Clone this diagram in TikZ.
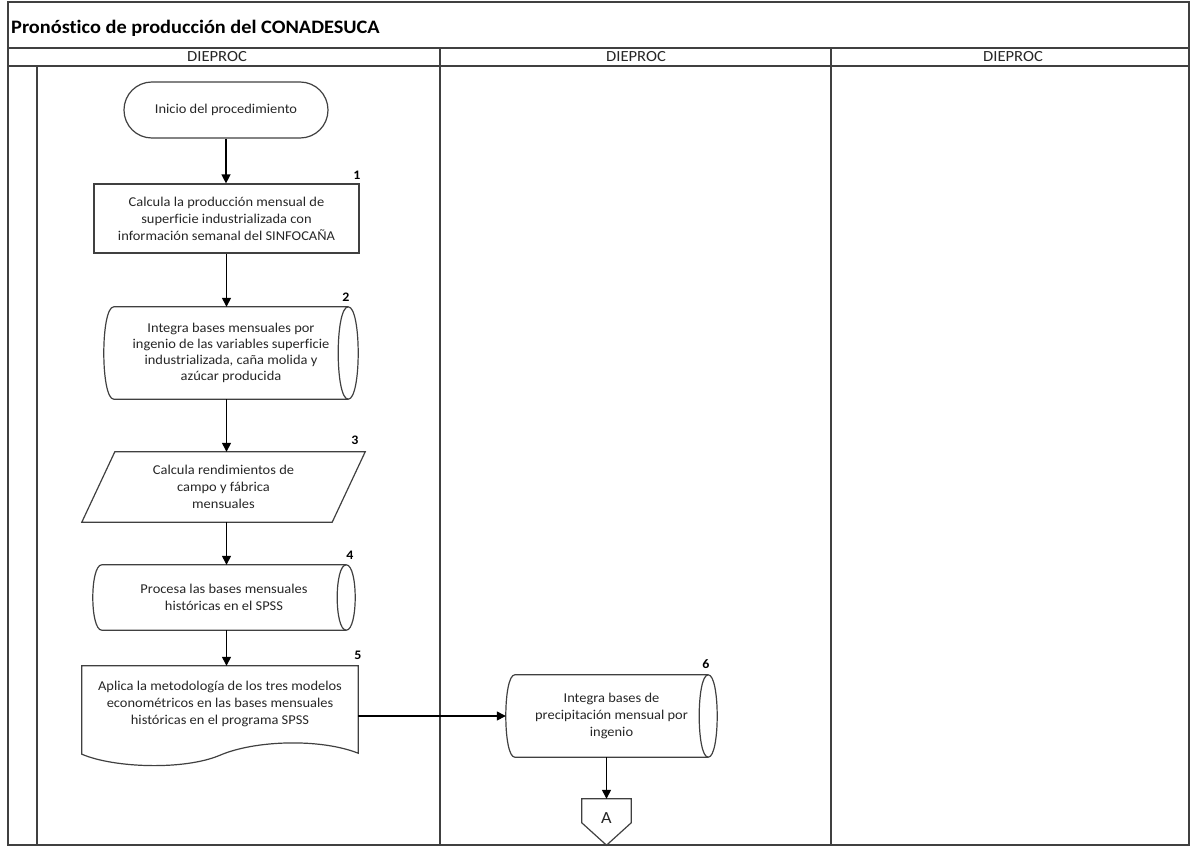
\documentclass[tikz,border=0pt]{standalone}
\usepackage{fontspec}
\setmainfont{Carlito}[FakeStretch=1.07,Ligatures={NoCommon}]
\usetikzlibrary{arrows.meta,calc}
\newcommand\drawstored[2]{%
\draw[shp] ($(#1.north west)+(#2,0)$) -- ($(#1.north east)+(-#2,0)$)
  .. controls ($(#1.north east)+(#2/3,0)$) and ($(#1.south east)+(#2/3,0)$) .. ($(#1.south east)+(-#2,0)$)
  -- ($(#1.south west)+(#2,0)$)
  .. controls ($(#1.south west)+(-#2/3,0)$) and ($(#1.north west)+(-#2/3,0)$) .. cycle;
\draw[shp] ($(#1.north east)+(-#2,0)$) .. controls ($(#1.north east)+(-7*#2/3,0)$) and ($(#1.south east)+(-7*#2/3,0)$) .. ($(#1.south east)+(-#2,0)$);}
\begin{document}
\begin{tikzpicture}[x=1pt,y=-1pt,
  frame/.style={draw=black!75, line width=1.3pt},
  shp/.style={draw=black!75, line width=1.2pt},
  txt/.style={font=\fontsize{13.5}{17}\selectfont, align=center, inner sep=0pt, text=black!85},
  box/.style={txt, rectangle},
  num/.style={font=\bfseries\fontsize{13}{15}\selectfont, inner sep=0pt},
  hdr/.style={font=\fontsize{15.5}{17}\selectfont, inner sep=0pt, text=black!85},
  arr/.style={draw=black, line width=1.3pt, -{Triangle[length=9pt,width=9pt]}}]
\useasboundingbox (0,0) rectangle (1191,847);
% frame
\draw[frame] (8,2) rectangle (1189,845);
\draw[frame] (8,48) -- (1189,48);
\draw[frame] (8,66) -- (1189,66);
\draw[frame] (440,48) -- (440,845);
\draw[frame] (831,48) -- (831,845);
\draw[frame] (37,66) -- (37,845);
\node[anchor=west, inner sep=0pt, font=\bfseries\fontsize{19}{22}\selectfont] (title) at (11,28) {Pronóstico de producción del CONADESUCA};
\node[hdr] (h1) at (217,57) {DIEPROC};
\node[hdr] (h2) at (636,57) {DIEPROC};
\node[hdr] (h3) at (1013,57) {DIEPROC};
% nodes
\node[box, draw=black!75, line width=1.2pt, rounded corners=27.9pt, minimum width=204pt, minimum height=56pt] (n0) at (226,110) {Inicio del procedimiento};
\node[box, draw=black!75, line width=1.2pt, minimum width=265pt, minimum height=69pt] (n1) at (226.5,218.5) {Calcula la producción mensual de\\superficie industrializada con\\información semanal del SINFOCAÑA};
\node[box, font=\fontsize{13.5}{16}\selectfont, minimum width=254pt, minimum height=92pt] (n2) at (231,353) {Integra bases mensuales por\\ingenio de las variables superficie\\industrializada, caña molida y\\azúcar producida};
\drawstored{n2}{10}
\node[box, minimum width=283pt, minimum height=70pt] (n3) at (223.5,487) {Calcula rendimientos de\\campo y fábrica\\mensuales};
\draw[shp] ($(n3.north west)+(33,0)$) -- (n3.north east) -- ($(n3.south east)+(-33,0)$) -- (n3.south west) -- cycle;
\node[box, minimum width=262pt, minimum height=65pt] (n4) at (224,597.5) {Procesa las bases mensuales\\históricas en el SPSS};
\drawstored{n4}{9}
\node[box, minimum width=276pt, minimum height=88pt, text depth=14pt] (n5) at (220,710) {Aplica la metodología de los tres modelos\\econométricos en las bases mensuales\\históricas en el programa SPSS};
\draw[shp] (n5.north west) -- (n5.south west) .. controls +(33,14) and +(-35,15) .. ($(n5.south)+(0,1)$) .. controls +(35,-15) and +(-38,-15) .. ($(n5.south east)+(0,-1)$) -- (n5.north east) -- cycle;
\node[box, minimum width=211pt, minimum height=82pt] (n6) at (611.5,716) {Integra bases de\\precipitación mensual por\\ingenio};
\drawstored{n6}{9}
\node[box, minimum width=49pt, minimum height=46pt, font=\fontsize{17}{19}\selectfont, text depth=8pt] (A) at (606.5,822) {A};
\draw[shp] (A.north west) -- (A.north east) -- ($(A.north east)+(0,24)$) -- (A.south) -- ($(A.north west)+(0,24)$) -- cycle;
% numbers
\node[num] (l1) at (357,175) {1};
\node[num] (l2) at (346,297) {2};
\node[num] (l3) at (355,440) {3};
\node[num] (l4) at (350,555) {4};
\node[num] (l5) at (358,655) {5};
\node[num] (l6) at (706,664) {6};
% connectors
\draw[arr] (n0.south) -- (n0.south |- n1.north);
\draw[arr] (n1.south) -- (n1.south |- n2.north);
\draw[arr] (n1.south |- n2.south) -- (n1.south |- n3.north);
\draw[arr] (n1.south |- n3.south) -- (n1.south |- n4.north);
\draw[arr] (n1.south |- n4.south) -- (n1.south |- n5.north);
\draw[arr] (n5.east |- n6.west) -- (n6.west);
\draw[arr] (A.north |- n6.south) -- (A.north);
\end{tikzpicture}
\end{document}
